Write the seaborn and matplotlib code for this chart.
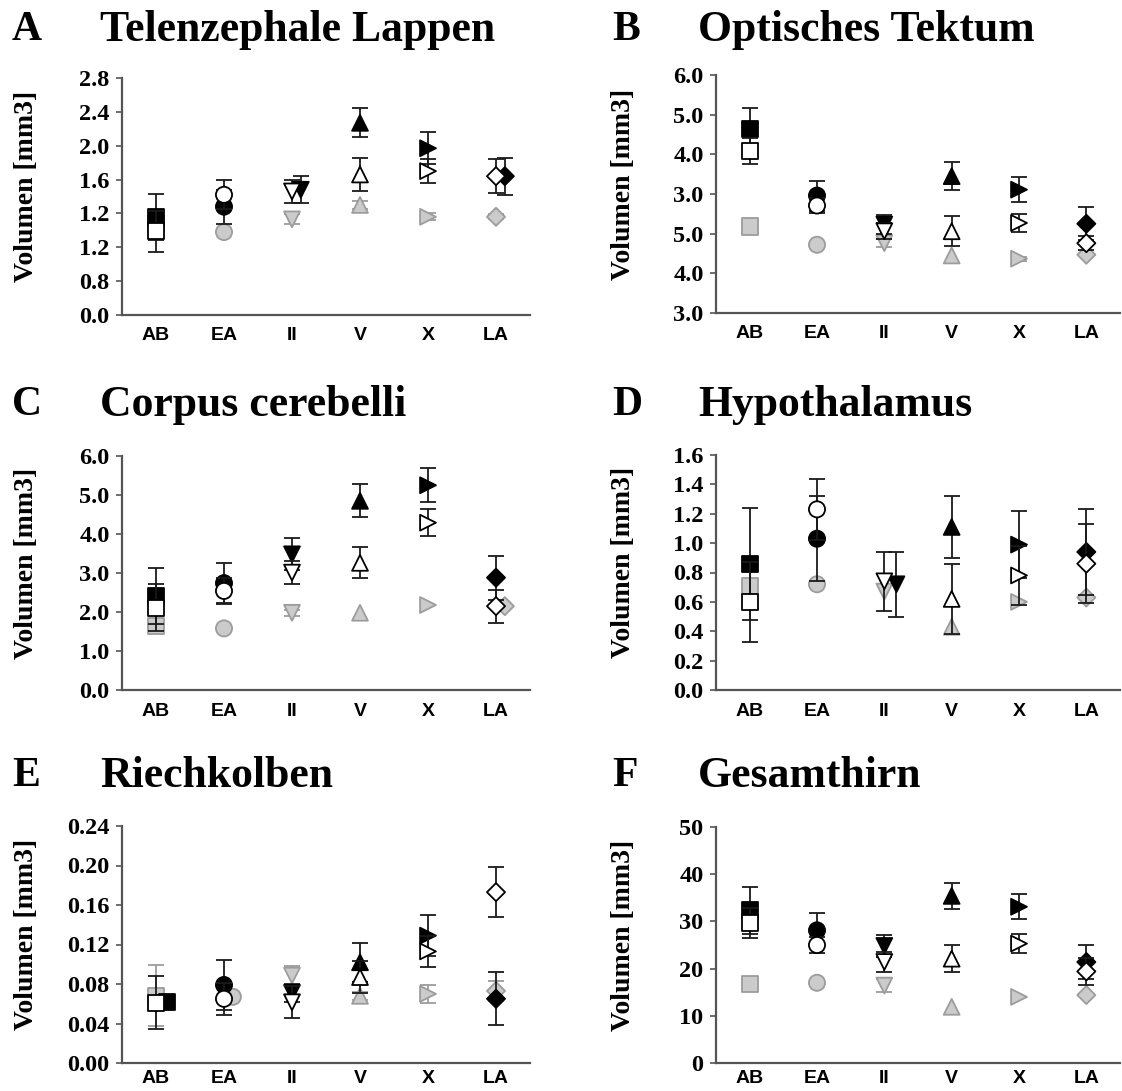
import numpy as np
import pandas as pd
import matplotlib
matplotlib.use("Agg")
import matplotlib.pyplot as plt
import seaborn as sns

# ---------------- data ----------------
categories = ["AB", "EA", "II", "V", "X", "LA"]
cat_markers = ["s", "o", "v", "^", ">", "D"]

letters = ["A", "B", "C", "D", "E", "F"]
titles = ["Telenzephale Lappen", "Optisches Tektum", "Corpus cerebelli",
          "Hypothalamus", "Riechkolben", "Gesamthirn"]
ylabel = "Volumen [mm3]"

# Panel A (values on the axis' own linear scale)
a_black = [1.16, 1.28, 1.48, 2.27, 1.97, 1.64]
a_black_sd = [0.27, 0.20, 0.16, 0.17, 0.19, 0.22]
a_open = [0.99, 1.42, 1.46, 1.66, 1.70, 1.64]
a_open_sd = [0.24, 0.17, 0.14, 0.19, 0.14, 0.20]
a_gray = [1.08, 0.98, 1.13, 1.30, 1.16, 1.16]
a_gray_sd = [0.05, 0.03, 0.06, 0.05, 0.04, 0.03]
a_yticklabels = ["0.0", "0.8", "1.2", "1.2", "1.6", "2.0", "2.4", "2.8"]
a_ymax = 2.8

# Panel B
b_black = [4.64, 2.96, 2.23, 3.45, 3.11, 2.25]
b_black_sd = [0.53, 0.38, 0.25, 0.35, 0.32, 0.41]
b_open = [4.08, 2.71, 2.06, 2.06, 2.27, 1.76]
b_open_sd = [0.32, 0.19, 0.20, 0.38, 0.23, 0.17]
b_gray = [2.18, 1.72, 1.76, 1.45, 1.37, 1.47]
b_gray_sd = [0.0, 0.0, 0.10, 0.0, 0.05, 0.0]
b_yticklabels = ["3.0", "4.0", "5.0", "3.0", "4.0", "5.0", "6.0"]
b_ymax = 6.0

# Panel C
c_black = [2.41, 2.74, 3.48, 4.85, 5.25, 2.88]
c_black_sd = [0.73, 0.51, 0.41, 0.42, 0.43, 0.56]
c_open = [2.11, 2.54, 3.01, 3.26, 4.29, 2.15]
c_open_sd = [0.60, 0.34, 0.30, 0.40, 0.35, 0.42]
c_gray = [1.64, 1.58, 1.98, 1.98, 2.18, 2.15]
c_gray_sd = [0.0, 0.0, 0.08, 0.0, 0.0, 0.0]
c_yticklabels = ["0.0", "1.0", "2.0", "3.0", "4.0", "5.0", "6.0"]
c_ymax = 6.0

# Panel D
d_black = [0.86, 1.03, 0.72, 1.11, 0.99, 0.94]
d_black_sd = [0.38, 0.29, 0.22, 0.21, 0.23, 0.29]
d_open = [0.60, 1.23, 0.74, 0.62, 0.78, 0.86]
d_open_sd = [0.27, 0.21, 0.20, 0.24, 0.20, 0.27]
d_gray = [0.71, 0.72, 0.67, 0.43, 0.60, 0.63]
d_gray_sd = [0.0, 0.0, 0.0, 0.0, 0.0, 0.0]
d_yticklabels = ["0.0", "0.2", "0.4", "0.6", "0.8", "1.0", "1.2", "1.4", "1.6"]
d_ymax = 1.6

# Panel E
e_black = [0.0615, 0.079, 0.071, 0.102, 0.129, 0.065]
e_black_sd = [0.0, 0.025, 0.009, 0.020, 0.021, 0.027]
e_open = [0.061, 0.065, 0.0615, 0.087, 0.113, 0.173]
e_open_sd = [0.027, 0.016, 0.016, 0.016, 0.016, 0.025]
e_gray = [0.068, 0.067, 0.0885, 0.068, 0.070, 0.073]
e_gray_sd = [0.031, 0.0, 0.0095, 0.004, 0.009, 0.010]
e_yticklabels = ["0.00", "0.04", "0.08", "0.12", "0.16", "0.20", "0.24"]
e_ymax = 0.24

# Panel F
f_black = [32.3, 28.1, 24.8, 35.4, 33.1, 21.4]
f_black_sd = [5.0, 3.7, 2.4, 2.8, 2.6, 3.7]
f_open = [29.7, 25.0, 21.4, 22.1, 25.3, 19.4]
f_open_sd = [3.2, 1.8, 2.1, 2.9, 2.1, 2.8]
f_gray = [16.8, 17.0, 16.4, 11.9, 14.0, 14.4]
f_gray_sd = [0.0, 0.0, 1.3, 0.0, 0.0, 0.0]
f_yticklabels = ["0", "10", "20", "30", "40", "50"]
f_ymax = 50.0

panels = [
    (a_black, a_black_sd, a_open, a_open_sd, a_gray, a_gray_sd, a_yticklabels, a_ymax),
    (b_black, b_black_sd, b_open, b_open_sd, b_gray, b_gray_sd, b_yticklabels, b_ymax),
    (c_black, c_black_sd, c_open, c_open_sd, c_gray, c_gray_sd, c_yticklabels, c_ymax),
    (d_black, d_black_sd, d_open, d_open_sd, d_gray, d_gray_sd, d_yticklabels, d_ymax),
    (e_black, e_black_sd, e_open, e_open_sd, e_gray, e_gray_sd, e_yticklabels, e_ymax),
    (f_black, f_black_sd, f_open, f_open_sd, f_gray, f_gray_sd, f_yticklabels, f_ymax),
]

# ---------------- style / layout ----------------
W, H = 1122, 1091
# axes boxes in pixels: left, top, right, bottom
boxes = [
    (122, 78, 530, 315), (716, 75, 1120, 313),
    (122, 456, 530, 690), (716, 455, 1120, 690),
    (122, 826, 530, 1063), (716, 827, 1120, 1063),
]
# small horizontal dodges (series, category index) -> offset in category units
dodges = [
    {("black", 2): 0.13, ("black", 5): 0.13},
    {},
    {("gray", 5): 0.13},
    {("black", 2): 0.18},
    {("black", 0): 0.16, ("gray", 1): 0.13},
    {},
]
xpads = [9, 9, 9, 9, 5, 5]
title_y = [30, 30, 405, 405, 776, 776]
col_left = [True, False, True, False, True, False]

series_style = {
    "gray": dict(face="#cbcbcb", edge="#9c9c9c", ecolor="#9c9c9c", z=3),
    "black": dict(face="black", edge="black", ecolor="#1a1a1a", z=4),
    "open": dict(face="white", edge="black", ecolor="#1a1a1a", z=5),
}
marker_sizes = {"AB": 135, "EA": 135, "II": 130, "V": 130, "X": 130, "LA": 85}

sns.set_theme(style="ticks")
plt.rcParams["font.family"] = ["Liberation Serif", "DejaVu Serif"]
plt.rcParams["text.color"] = "black"
plt.rcParams["xtick.color"] = "black"
plt.rcParams["ytick.color"] = "black"

fig = plt.figure(figsize=(W / 100, H / 100), dpi=100)
fig.patch.set_facecolor("white")

serif = "Liberation Serif"
sans = "Liberation Sans"

for i, (blk, blk_sd, opn, opn_sd, gry, gry_sd, ylabels, ymax) in enumerate(panels):
    l, t, r, b = boxes[i]
    ax = fig.add_axes([l / W, 1 - b / H, (r - l) / W, (b - t) / H])
    ax.set_facecolor("white")

    rows = []
    for sname, vals, sds in (("gray", gry, gry_sd), ("black", blk, blk_sd), ("open", opn, opn_sd)):
        for k, cat in enumerate(categories):
            rows.append(dict(series=sname, cat=cat,
                             x=k + dodges[i].get((sname, k), 0.0),
                             y=vals[k], sd=sds[k]))
    df = pd.DataFrame(rows)

    # error bars
    for sname in ("gray", "black", "open"):
        st = series_style[sname]
        sub = df[(df.series == sname) & (df.sd > 0)]
        if len(sub):
            ax.errorbar(sub.x, sub.y, yerr=sub.sd, fmt="none", ecolor=st["ecolor"],
                        elinewidth=1.3, capsize=5.5, capthick=1.3, zorder=st["z"] - 0.5)

    # markers via seaborn
    mk = dict(zip(categories, cat_markers))
    for sname in ("gray", "black", "open"):
        st = series_style[sname]
        sub = df[df.series == sname]
        sns.scatterplot(data=sub, x="x", y="y", style="cat", markers=mk,
                        style_order=categories, size="cat", sizes=marker_sizes,
                        size_order=categories, color=st["face"], edgecolor=st["edge"],
                        linewidth=1.3, legend=False, ax=ax, zorder=st["z"])

    ax.set_xlim(-0.5, 5.5)
    ax.set_ylim(0, ymax)
    ax.set_xticks(range(len(categories)))
    ax.set_xticklabels(categories, fontfamily=sans, fontweight="bold", fontsize=14)
    yt = np.linspace(0, ymax, len(ylabels))
    ax.set_yticks(yt)
    ax.set_yticklabels(ylabels, fontfamily=serif, fontweight="bold", fontsize=17.5)
    ax.set_xlabel("")
    ax.set_ylabel("")
    ax.tick_params(axis="x", length=0, pad=xpads[i], colors="black")
    ax.tick_params(axis="y", length=4, width=1.2, color="#555555", labelcolor="black", pad=5)
    for sp in ("top", "right"):
        ax.spines[sp].set_visible(False)
    for sp in ("left", "bottom"):
        ax.spines[sp].set_color("#555555")
        ax.spines[sp].set_linewidth(1.6)
        ax.spines[sp].set_zorder(10)
    for p in ax.collections:
        p.set_clip_on(False)

    # y label
    lx = 27 if col_left[i] else 624
    ly = (t + b) / 2 - 10
    fig.text(lx / W, 1 - ly / H, ylabel, rotation=90, ha="center", va="center",
             fontfamily=serif, fontweight="bold", fontsize=20, color="black")

    # panel letter and title
    xl = 12 if col_left[i] else 612
    xt = 100 if col_left[i] else 698
    fig.text(xl / W, 1 - title_y[i] / H, letters[i], ha="left", va="center",
             fontfamily=serif, fontweight="bold", fontsize=30, color="black")
    fig.text(xt / W, 1 - title_y[i] / H, titles[i], ha="left", va="center",
             fontfamily=serif, fontweight="bold", fontsize=31.5, color="black")

fig.savefig("out.png", dpi=100, facecolor="white")
